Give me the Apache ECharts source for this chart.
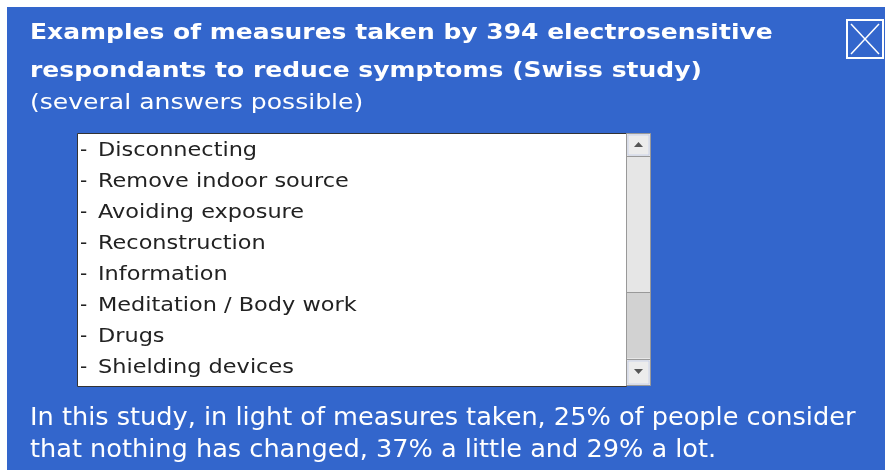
<!DOCTYPE html>
<html><head><meta charset="utf-8">
<script src="https://cdn.jsdelivr.net/npm/echarts@6/dist/echarts.min.js"></script>
<style>html,body{margin:0;padding:0;background:#fff}#c{width:885px;height:470px}</style>
</head><body><div id="c"></div>
<script>
var titleLines = ["Examples of measures taken by 394 electrosensitive", "respondants to reduce symptoms (Swiss study)"];
var subtitle = "(several answers possible)";
var measures = ["Disconnecting", "Remove indoor source", "Avoiding exposure", "Reconstruction", "Information", "Meditation / Body work", "Drugs", "Shielding devices"];
var noteLines = ["In this study, in light of measures taken, 25% of people consider", "that nothing has changed, 37% a little and 29% a lot."];

var chart = echarts.init(document.getElementById('c'), null, {renderer: 'canvas'});
var g = [];
var BLUE = '#3366cc';
g.push({type: 'rect', shape: {x: 7, y: 7, width: 878, height: 463}, style: {fill: BLUE}});
titleLines.forEach(function (t, i) {
  g.push({type: 'text', x: 30, y: 33 + i * 38, scaleX: 1.136, style: {text: t, fill: '#fff', font: 'bold 22px "DejaVu Sans"', textVerticalAlign: 'middle'}});
});
g.push({type: 'text', x: 30, y: 103, scaleX: 1.14, style: {text: subtitle, fill: '#fff', font: '22px "DejaVu Sans"', textVerticalAlign: 'middle'}});
// close button
g.push({type: 'rect', shape: {x: 847, y: 20, width: 36, height: 38}, style: {fill: 'none', stroke: '#fff', lineWidth: 2}});
g.push({type: 'line', shape: {x1: 851, y1: 24, x2: 879, y2: 54}, style: {stroke: '#fff', lineWidth: 1.5}});
g.push({type: 'line', shape: {x1: 879, y1: 24, x2: 851, y2: 54}, style: {stroke: '#fff', lineWidth: 1.5}});
// list box
g.push({type: 'rect', shape: {x: 77.5, y: 133.5, width: 549, height: 253}, style: {fill: '#fff', stroke: '#333', lineWidth: 1}});
measures.forEach(function (m, i) {
  g.push({type: 'text', x: 80, y: 151 + i * 31, style: {text: '-', fill: '#222', font: '20px "DejaVu Sans"', textVerticalAlign: 'middle'}});
  g.push({type: 'text', x: 98, y: 151 + i * 31, scaleX: 1.12, style: {text: m, fill: '#222', font: '20px "DejaVu Sans"', textVerticalAlign: 'middle'}});
});
// scrollbar
g.push({type: 'rect', shape: {x: 626.5, y: 133.5, width: 24, height: 252}, style: {fill: '#e6e6e6', stroke: '#999', lineWidth: 1}});
g.push({type: 'rect', shape: {x: 627, y: 292, width: 23, height: 66}, style: {fill: '#d2d2d2'}});
g.push({type: 'line', shape: {x1: 627, y1: 156.5, x2: 650, y2: 156.5}, style: {stroke: '#999'}});
g.push({type: 'line', shape: {x1: 627, y1: 292.5, x2: 650, y2: 292.5}, style: {stroke: '#999'}});
g.push({type: 'line', shape: {x1: 627, y1: 359.5, x2: 650, y2: 359.5}, style: {stroke: '#999'}});
g.push({type: 'rect', shape: {x: 628, y: 135, width: 21, height: 20}, style: {fill: '#ececec', stroke: '#aebfe8', lineWidth: 0.5}});
g.push({type: 'rect', shape: {x: 628, y: 361, width: 21, height: 23}, style: {fill: '#ececec', stroke: '#aebfe8', lineWidth: 0.5}});
g.push({type: 'polygon', shape: {points: [[634, 147], [643, 147], [638.5, 142]]}, style: {fill: '#555'}});
g.push({type: 'polygon', shape: {points: [[634, 369], [643, 369], [638.5, 374]]}, style: {fill: '#555'}});
// note
noteLines.forEach(function (t, i) {
  g.push({type: 'text', x: 30, y: 418 + i * 32, scaleX: 1.138, style: {text: t, fill: '#fff', font: '25px "DejaVu Sans Condensed"', textVerticalAlign: 'middle'}});
});
chart.setOption({animation: false, graphic: {elements: g}});
</script></body></html>
